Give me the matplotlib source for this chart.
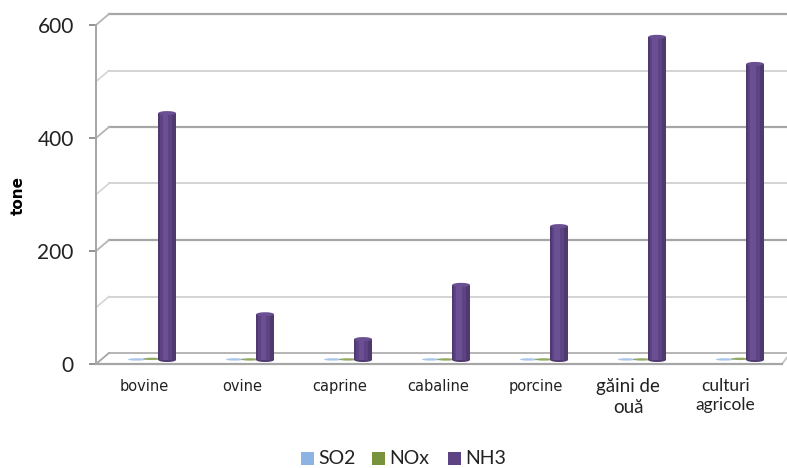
import matplotlib
matplotlib.use('Agg')
import matplotlib.pyplot as plt
from matplotlib.patches import Ellipse, Rectangle

categories = ['bovine', 'ovine', 'caprine', 'cabaline', 'porcine', 'găini de\nouă', 'culturi\nagricole']
so2 = [1, 1, 1, 1, 1, 1, 1]
nox = [2, 1, 1, 1, 1, 1, 2]
nh3 = [437, 81, 37, 133, 237, 572, 524]
major_ticks = [0, 200, 400, 600]
minor_ticks = [100, 300, 500]

W, H = 787, 468
fig = plt.figure(figsize=(W / 100, H / 100), dpi=100)
ax = fig.add_axes([96 / W, 1 - 364 / H, (782 - 96) / W, 339 / H])

x_min, x_max = -0.571, 6.43
ax.set_xlim(x_min, x_max)
ax.set_ylim(0, 600)

# depth of the fake 3d box, in data units
dx = 13 / 98
dy = 11 * 600 / 339
lift = 4 * 600 / 339
bar_w = 0.18
bar_h = 4 * 600 / 339

blue, green, purple = '#8db3e2', '#77933c', '#5e4384'

# back wall and floor
for v in major_ticks[1:]:
    ax.plot([x_min + dx, x_max + 0.05], [v + dy, v + dy], color='#a6a6a6', lw=1.6, clip_on=False, zorder=1)
    ax.plot([x_min, x_min + dx], [v, v + dy], color='#b5b5b5', lw=1.3, clip_on=False, zorder=1)
for v in minor_ticks:
    ax.plot([x_min + dx, x_max + 0.05], [v + dy, v + dy], color='#d4d4d4', lw=1.4, clip_on=False, zorder=1)
    ax.plot([x_min, x_min + dx], [v, v + dy], color='#d4d4d4', lw=1.2, clip_on=False, zorder=1)
ax.plot([x_min + dx, x_max + 0.05], [dy, dy], color='#b5b5b5', lw=1.4, clip_on=False, zorder=1)
ax.plot([x_min, x_min + dx], [0, dy], color='#a6a6a6', lw=1.3, clip_on=False, zorder=1)
ax.plot([x_max, x_max + 0.06], [0, dy * 0.7], color='#c4c4c4', lw=1.3, clip_on=False, zorder=1)

for i in range(len(categories)):
    # the two tiny series only show as flat discs on the floor
    ax.add_patch(Ellipse((i - 0.155, lift + so2[i]), bar_w, bar_h * 0.6, color=blue, alpha=0.75, lw=0, zorder=3))
    ax.add_patch(Ellipse((i, lift + nox[i]), bar_w, bar_h * 0.6, color=green, alpha=0.8, lw=0, zorder=3))

    # cylinder for NH3: dark base, lighter core
    x = i + 0.155
    ax.add_patch(Ellipse((x, lift), bar_w, bar_h, color='#4f3a70', lw=0, zorder=4))
    ax.bar(x, nh3[i], bottom=lift, width=bar_w, color='#4f3a70', lw=0, zorder=4)
    ax.bar(x - 0.012, nh3[i], bottom=lift, width=bar_w * 0.7, color=purple, lw=0, zorder=5)
    ax.bar(x - 0.02, nh3[i], bottom=lift, width=bar_w * 0.3, color='#6a4f92', lw=0, zorder=5)
    ax.add_patch(Ellipse((x, lift + nh3[i]), bar_w, bar_h, color='#6a4f92', lw=0, zorder=6))

for side in ['top', 'right']:
    ax.spines[side].set_visible(False)
ax.spines['left'].set_color('#a6a6a6')
ax.spines['left'].set_linewidth(1.4)
ax.spines['bottom'].set_color('#a6a6a6')
ax.spines['bottom'].set_linewidth(1.6)

ax.set_yticks(major_ticks)
ax.tick_params(axis='y', length=5, width=1.2, color='#808080', labelsize=15, labelcolor='#222222', pad=11)
for t in ax.get_yticklabels():
    t.set_fontfamily('Lato')
ax.set_xticks([])
fig.text(18 / W, 1 - 195 / H, 'tone', fontsize=11, fontweight='bold', rotation=90, ha='center', va='center')

# x labels sit left of the slot centres in the source picture
label_x = [-0.08, 0.92, 1.92, 2.92, 3.92, 4.86, 5.85]
label_size = [10.5, 10.5, 10.5, 10.5, 10.5, 13.5, 12.5]
for i, name in enumerate(categories):
    if i < 5:
        ax.text(label_x[i], -27, name, ha='center', va='top', fontsize=label_size[i], color='#222222', clip_on=False)
    else:
        ax.text(label_x[i], -25, name, ha='center', va='top', fontsize=label_size[i], color='#222222', clip_on=False,
                family='Lato', linespacing=1.25)

# legend, hand placed so the spacing matches
legend_items = [('SO2', blue, 301), ('NOx', green, 372), ('NH3', purple, 448)]
for label, color, px in legend_items:
    fig.add_artist(Rectangle((px / W, 1 - 465 / H), 13 / W, 13 / H, transform=fig.transFigure, color=color, lw=0))
    fig.text((px + 17) / W, 1 - 459 / H, label, fontsize=14, family='Lato', color='#222222', va='center')

fig.savefig('out.png', dpi=100)
